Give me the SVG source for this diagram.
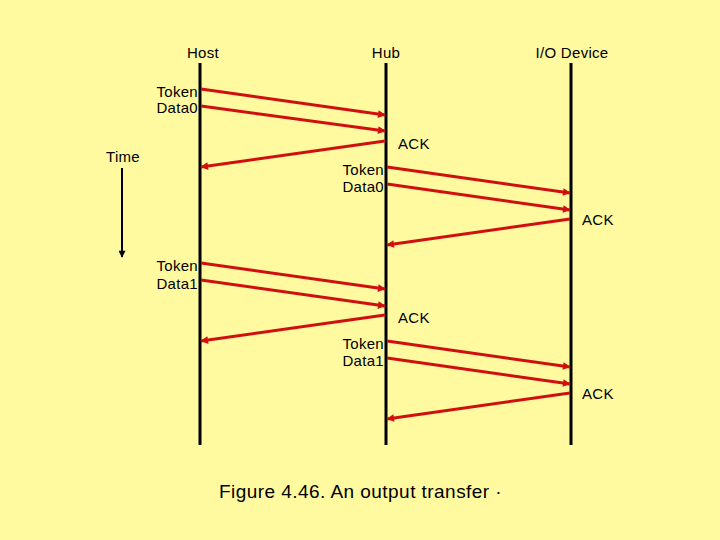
<svg xmlns="http://www.w3.org/2000/svg" width="720" height="540" viewBox="0 0 720 540">
<defs>
<style>
text{font-family:"Liberation Sans",Arial,sans-serif;font-size:15px;letter-spacing:0.3px;fill:#000}
.life{stroke:#000;stroke-width:3}
.msg{stroke:#d01010;stroke-width:3;fill:none;marker-end:url(#ah)}
.r{text-anchor:end}
.m{text-anchor:middle}
</style>
<marker id="ah" viewBox="0 0 10 10" refX="9" refY="5" markerWidth="4.5" markerHeight="2.6" markerUnits="strokeWidth" orient="auto">
<path d="M0,0 L10,5 L0,10 z" fill="#d01010"/>
</marker>
<marker id="tah" viewBox="0 0 10 10" refX="9" refY="5" markerWidth="5" markerHeight="3.5" markerUnits="strokeWidth" orient="auto">
<path d="M0,0 L10,5 L0,10 z" fill="#000"/>
</marker>
</defs>
<rect width="720" height="540" fill="#fffaa0"/>
<g id="host"><line class="life" x1="200" y1="63" x2="200" y2="445"/><text class="m" x="203" y="58">Host</text></g>
<g id="hub"><line class="life" x1="386" y1="63" x2="386" y2="445"/><text class="m" x="386" y="58">Hub</text></g>
<g id="io"><line class="life" x1="571" y1="63" x2="571" y2="445"/><text class="m" x="572" y="58">I/O Device</text></g>
<g id="time"><text x="106" y="162">Time</text><line x1="122" y1="168" x2="122" y2="257" stroke="#000" stroke-width="2" marker-end="url(#tah)"/></g>
<g id="connectors">
<line class="msg" x1="201" y1="89" x2="385" y2="115"/>
<line class="msg" x1="201" y1="106" x2="385" y2="131"/>
<line class="msg" x1="385" y1="141" x2="201" y2="167"/>
<line class="msg" x1="387" y1="167" x2="570" y2="193"/>
<line class="msg" x1="387" y1="184" x2="570" y2="210"/>
<line class="msg" x1="570" y1="219" x2="387" y2="245"/>
<line class="msg" x1="201" y1="263" x2="385" y2="289"/>
<line class="msg" x1="201" y1="280" x2="385" y2="306"/>
<line class="msg" x1="385" y1="315" x2="201" y2="341"/>
<line class="msg" x1="387" y1="341" x2="570" y2="367"/>
<line class="msg" x1="387" y1="358" x2="570" y2="384"/>
<line class="msg" x1="570" y1="393" x2="387" y2="419"/>
</g>
<g id="labels">
<text class="r" x="198" y="97">Token</text>
<text class="r" x="198" y="113">Data0</text>
<text x="398" y="149">ACK</text>
<text class="r" x="384" y="175">Token</text>
<text class="r" x="384" y="192">Data0</text>
<text x="582" y="225">ACK</text>
<text class="r" x="198" y="271">Token</text>
<text class="r" x="198" y="289">Data1</text>
<text x="398" y="323">ACK</text>
<text class="r" x="384" y="349">Token</text>
<text class="r" x="384" y="366">Data1</text>
<text x="582" y="399">ACK</text>
</g>
<text id="caption" x="219" y="498" style="font-size:19px;letter-spacing:0.45px">Figure 4.46. An output transfer ·</text>
</svg>
